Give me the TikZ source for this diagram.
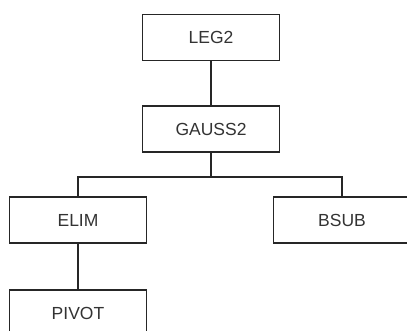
\documentclass[tikz,border=0pt]{standalone}
\usepackage{fontspec}
\setmainfont{Liberation Sans}
\begin{document}
\begin{tikzpicture}[x=1pt,y=-1pt,
  modbox/.style={draw=black!85, line width=1.9pt, rectangle, minimum width=137pt,
    minimum height=46pt, inner sep=0pt, text=black!80,
    font=\fontsize{17.5}{20}\selectfont},
  link/.style={draw=black!85, line width=1.9pt}]
\useasboundingbox (0,0) rectangle (407,330);
\clip (0,0) rectangle (407,330);
\fill[white] (0,0) rectangle (407,330);
\node[modbox] (leg) at (211,37.5) {LEG2};
\node[modbox] (gauss) at (211,129) {GAUSS2};
\node[modbox] (elim) at (78,220) {ELIM};
\node[modbox] (bsub) at (342,220) {BSUB};
\node[modbox] (pivot) at (78,313) {PIVOT};
\coordinate (bar) at (211,177);
\draw[link] (leg.south) -- (gauss.north);
\draw[link] (gauss.south) -- (bar);
\draw[link] (bar) -| (elim.north);
\draw[link] (bar) -| (bsub.north);
\draw[link] (elim.south) -- (pivot.north);
\end{tikzpicture}
\end{document}
